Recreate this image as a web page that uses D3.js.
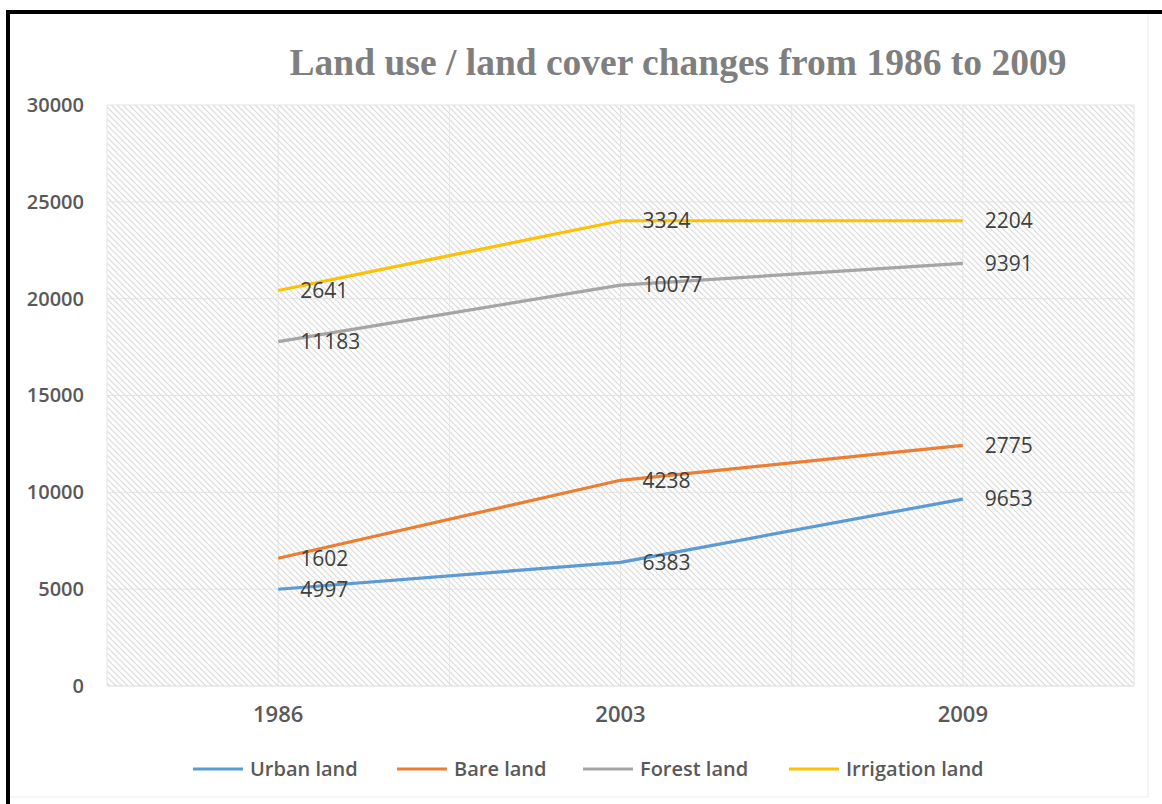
<!DOCTYPE html>
<html>
<head>
<meta charset="utf-8">
<script src="https://cdn.jsdelivr.net/npm/d3@7/dist/d3.min.js"></script>
<style>
  html, body { margin: 0; padding: 0; background: #fff; }
  svg { display: block; }
</style>
</head>
<body>
<svg id="chart" width="1162" height="804"></svg>
<script>
// Years on the category axis
const years = ["1986", "2003", "2009"];
// Area of each land class per year (stacked in this order)
const urbanLand = [4997, 6383, 9653];
const bareLand = [1602, 4238, 2775];
const forestLand = [11183, 10077, 9391];
const irrigationLand = [2641, 3324, 2204];
const seriesNames = ["Urban land", "Bare land", "Forest land", "Irrigation land"];
const seriesColors = ["#5b9bd5", "#ed7d31", "#a5a5a5", "#ffc000"];
const yTicks = [0, 5000, 10000, 15000, 20000, 25000, 30000];
const titleText = "Land use / land cover changes from 1986 to 2009";

const seriesValues = [urbanLand, bareLand, forestLand, irrigationLand];
const rows = years.map((y, i) => {
  const r = { year: y };
  seriesNames.forEach((n, k) => { r[n] = seriesValues[k][i]; });
  return r;
});
const stacked = d3.stack().keys(seriesNames)(rows);

const svg = d3.select("#chart");
const plot = { left: 107, right: 1134, top: 105, bottom: 686 };
const font = "'Open Sans', 'Noto Sans', sans-serif";

// Hatched fill for the plot area
const defs = svg.append("defs");
const pat = defs.append("pattern")
  .attr("id", "hatch").attr("patternUnits", "userSpaceOnUse")
  .attr("width", 6).attr("height", 6);
pat.append("rect").attr("width", 6).attr("height", 6).attr("fill", "#ffffff");
pat.append("path").attr("d", "M-1,-1 L7,7 M-4,2 L1,7 M2,-4 L7,1")
  .attr("stroke", "#dadada").attr("stroke-width", 1.2);

// Outer frame
svg.append("line").attr("x1", 1148).attr("x2", 1148).attr("y1", 14).attr("y2", 797)
  .attr("stroke", "#ececec").attr("stroke-width", 1);
svg.append("line").attr("x1", 10).attr("x2", 1148).attr("y1", 797).attr("y2", 797)
  .attr("stroke", "#ececec").attr("stroke-width", 1);
svg.append("rect").attr("x", 8).attr("y", 12).attr("width", 1200).attr("height", 900)
  .attr("fill", "none").attr("stroke", "#000").attr("stroke-width", 4);

// Title
svg.append("text").attr("x", 678).attr("y", 75).attr("text-anchor", "middle")
  .attr("font-family", "'Liberation Serif', 'Times New Roman', serif")
  .attr("font-weight", "bold").attr("font-size", 37.5).attr("fill", "#7f7f7f")
  .text(titleText);

const x = d3.scaleBand().domain(years).range([plot.left, plot.right]).paddingInner(0).paddingOuter(0);
const y = d3.scaleLinear().domain([0, 30000]).range([plot.bottom, plot.top]);
const cx = d => x(d) + x.bandwidth() / 2;

svg.append("rect").attr("x", plot.left).attr("y", plot.top)
  .attr("width", plot.right - plot.left).attr("height", plot.bottom - plot.top)
  .attr("fill", "url(#hatch)");

// Gridlines: horizontal at ticks, vertical at band edges and centres
const g = svg.append("g");
g.selectAll("line.h").data(yTicks.filter(t => t > 0)).join("line")
  .attr("x1", plot.left).attr("x2", plot.right)
  .attr("y1", d => y(d)).attr("y2", d => y(d))
  .attr("stroke", "#e4e4e4").attr("stroke-width", 1);
const vPos = [];
years.forEach(yr => { vPos.push(x(yr)); vPos.push(cx(yr)); });
vPos.push(x(years[years.length - 1]) + x.bandwidth());
g.selectAll("line.v").data(vPos).join("line")
  .attr("x1", d => d).attr("x2", d => d)
  .attr("y1", plot.top).attr("y2", plot.bottom)
  .attr("stroke", "#e4e4e4").attr("stroke-width", 1);
svg.append("line").attr("x1", plot.left).attr("x2", plot.right)
  .attr("y1", plot.bottom).attr("y2", plot.bottom)
  .attr("stroke", "#d9d9d9").attr("stroke-width", 1);

// Y axis labels
const yAxis = svg.append("g").attr("transform", `translate(${plot.left - 23},0)`)
  .call(d3.axisLeft(y).tickValues(yTicks).tickSize(0).tickPadding(0).tickFormat(d3.format("d")));
yAxis.select(".domain").remove();
yAxis.selectAll("text").attr("font-family", font).attr("font-size", 20)
  .attr("font-weight", 600).attr("fill", "#595959");

// X axis labels
const xAxis = svg.append("g").attr("transform", `translate(0,${plot.bottom})`)
  .call(d3.axisBottom(x).tickSize(0).tickPadding(20));
xAxis.select(".domain").remove();
xAxis.selectAll("text").attr("font-family", font).attr("font-size", 22)
  .attr("font-weight", 600).attr("fill", "#595959");

// Stacked lines
const line = d3.line().x(d => cx(d.data.year)).y(d => y(d[1]));
svg.selectAll("path.series").data(stacked).join("path")
  .attr("class", "series")
  .attr("d", d => line(d))
  .attr("fill", "none")
  .attr("stroke", (d, i) => seriesColors[i])
  .attr("stroke-width", 3.2)
  .attr("stroke-linejoin", "round");

// Data labels: each segment's own value, placed right of the point
stacked.forEach(s => {
  svg.append("g").selectAll("text").data(s).join("text")
    .attr("x", d => cx(d.data.year) + 22)
    .attr("y", d => y(d[1]))
    .attr("dy", "0.35em")
    .attr("font-family", font).attr("font-size", 21)
    .attr("fill", "#404040")
    .text(d => d.data[s.key]);
});

// Legend
const legendX = [193, 397, 583, 789];
const leg = svg.append("g");
seriesNames.forEach((n, i) => {
  leg.append("line").attr("x1", legendX[i]).attr("x2", legendX[i] + 50)
    .attr("y1", 769).attr("y2", 769)
    .attr("stroke", seriesColors[i]).attr("stroke-width", 3.2);
  leg.append("text").attr("x", legendX[i] + 57).attr("y", 769).attr("dy", "0.35em")
    .attr("font-family", font).attr("font-size", 20).attr("font-weight", 600)
    .attr("fill", "#595959").text(n);
});
</script>
</body>
</html>
